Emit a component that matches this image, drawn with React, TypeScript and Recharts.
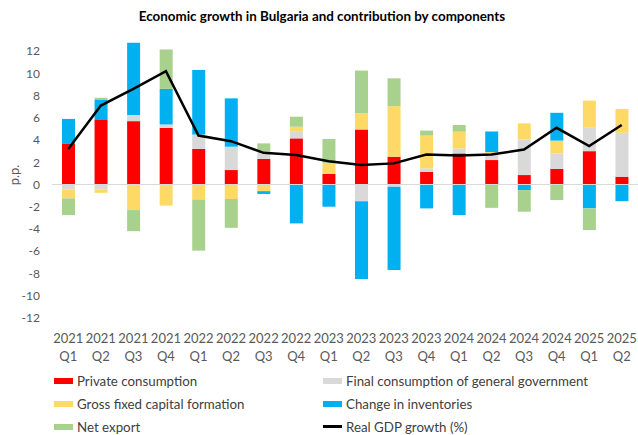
import React from "react";
import {
  ComposedChart, Bar, Line, XAxis, YAxis, ReferenceLine,
} from "recharts";

const quarters = [
  "2021 Q1", "2021 Q2", "2021 Q3", "2021 Q4",
  "2022 Q1", "2022 Q2", "2022 Q3", "2022 Q4",
  "2023 Q1", "2023 Q2", "2023 Q3", "2023 Q4",
  "2024 Q1", "2024 Q2", "2024 Q3", "2024 Q4",
  "2025 Q1", "2025 Q2",
];

const privateConsumption = [3.7, 5.8, 5.7, 5.1, 3.2, 1.3, 2.3, 4.15, 0.95, 4.95, 2.5, 1.15, 2.8, 2.2, 0.85, 1.4, 3.0, 0.7];
const governmentConsumption = [-0.45, -0.45, 0.55, 0.3, 1.3, 2.1, 0.65, 0.65, 0, -1.5, -0.2, 0.3, 0.45, 0.6, 3.2, 1.4, 2.1, 3.95];
const fixedCapital = [-0.8, -0.3, -2.3, -1.9, -1.35, -1.3, -0.6, 0.4, 1.0, 1.45, 4.55, 2.95, 1.5, 0.12, 1.45, 1.15, 2.45, 2.15];
const inventories = [2.2, 1.8, 6.5, 3.2, 5.8, 4.35, -0.25, -3.5, -2.0, -7.0, -7.5, -2.15, -2.75, 1.85, -0.5, 2.5, -2.15, -1.5];
const netExport = [-1.5, 0.2, -1.9, 3.55, -4.6, -2.6, 0.75, 0.9, 2.15, 3.85, 2.5, 0.45, 0.6, -2.1, -1.95, -1.4, -1.95, 0];
const gdpGrowth = [3.2, 7.1, 8.6, 10.2, 4.4, 3.9, 2.85, 2.65, 2.1, 1.75, 1.9, 2.7, 2.6, 2.7, 3.15, 5.1, 3.45, 5.35];

const yTicks = [-12, -10, -8, -6, -4, -2, 0, 2, 4, 6, 8, 10, 12];

const chartData = quarters.map((q, i) => ({
  q,
  priv: privateConsumption[i],
  gov: governmentConsumption[i],
  gfcf: fixedCapital[i],
  inv: inventories[i],
  nx: netExport[i],
  gdp: gdpGrowth[i],
}));

const FONT = "Lato, 'Open Sans', sans-serif";

const legendItems = [
  { label: "Private consumption", color: "#FF0000", col: 0, row: 0 },
  { label: "Final consumption of general government", color: "#D9D9D9", col: 1, row: 0 },
  { label: "Gross fixed capital formation", color: "#FFD966", col: 0, row: 1 },
  { label: "Change in inventories", color: "#00B0F0", col: 1, row: 1 },
  { label: "Net export", color: "#A9D18E", col: 0, row: 2 },
  { label: "Real GDP growth (%)", color: "#000", col: 1, row: 2, line: true },
];

const QuarterTick = (props: any) => {
  const { x, y, payload } = props;
  const [year, qtr] = String(payload.value).split(" ");
  return (
    <g>
      <text x={x} y={y + 13.5} textAnchor="middle" fill="#595959" fontSize={13} fontFamily={FONT}>{year}</text>
      <text x={x} y={y + 31.5} textAnchor="middle" fill="#595959" fontSize={13} fontFamily={FONT}>{qtr}</text>
    </g>
  );
};

export default function App() {
  return (
    <div style={{ position: "absolute", left: 0, top: 0, width: 638, height: 435, background: "#fff", fontFamily: FONT, overflow: "hidden" }}>
      <ComposedChart
        width={638}
        height={435}
        data={chartData}
        stackOffset="sign"
        margin={{ top: 40, right: 0, bottom: 0, left: 0 }}
        barSize={13}
      >
        <text x={322} y={21} textAnchor="middle" fontSize={13.4} fontWeight="bold" fontFamily={FONT} fill="#000">
          Economic growth in Bulgaria and contribution by components
        </text>
        <text x={19} y={175} textAnchor="middle" fontSize={13} fontFamily={FONT} fill="#595959" transform="rotate(-90 19 175)">
          p.p.
        </text>
        <XAxis
          dataKey="q"
          height={106}
          axisLine={false}
          tickLine={false}
          tickSize={0}
          tickMargin={0}
          interval={0}
          tick={<QuarterTick />}
        />
        <YAxis
          width={52}
          domain={[-13, 13]}
          ticks={yTicks}
          axisLine={false}
          tickLine={false}
          tickSize={0}
          tickMargin={12}
          tick={{ fill: "#595959", fontSize: 12, fontFamily: FONT }}
        />
        <ReferenceLine y={0} stroke="#D9D9D9" strokeWidth={1} />
        <Bar dataKey="priv" stackId="a" fill="#FF0000" isAnimationActive={false} />
        <Bar dataKey="gov" stackId="a" fill="#D9D9D9" isAnimationActive={false} />
        <Bar dataKey="gfcf" stackId="a" fill="#FFD966" isAnimationActive={false} />
        <Bar dataKey="inv" stackId="a" fill="#00B0F0" isAnimationActive={false} />
        <Bar dataKey="nx" stackId="a" fill="#A9D18E" isAnimationActive={false} />
        <Line
          type="linear"
          dataKey="gdp"
          stroke="#000"
          strokeWidth={2.5}
          dot={false}
          activeDot={false}
          isAnimationActive={false}
        />
      </ComposedChart>

      {legendItems.map((it) => {
        const mid = 381 + it.row * 22.8;
        const left = it.col === 0 ? 54 : 323;
        return (
          <div key={it.label} style={{ position: "absolute", left, top: mid - 6, height: 12, display: "flex", alignItems: "center", whiteSpace: "nowrap" }}>
            <div style={{ width: 19, height: it.line ? 2.5 : 6, background: it.color, marginRight: 4 }} />
            <span style={{ fontSize: 13.3, color: "#404040", lineHeight: "12px" }}>{it.label}</span>
          </div>
        );
      })}
    </div>
  );
}
